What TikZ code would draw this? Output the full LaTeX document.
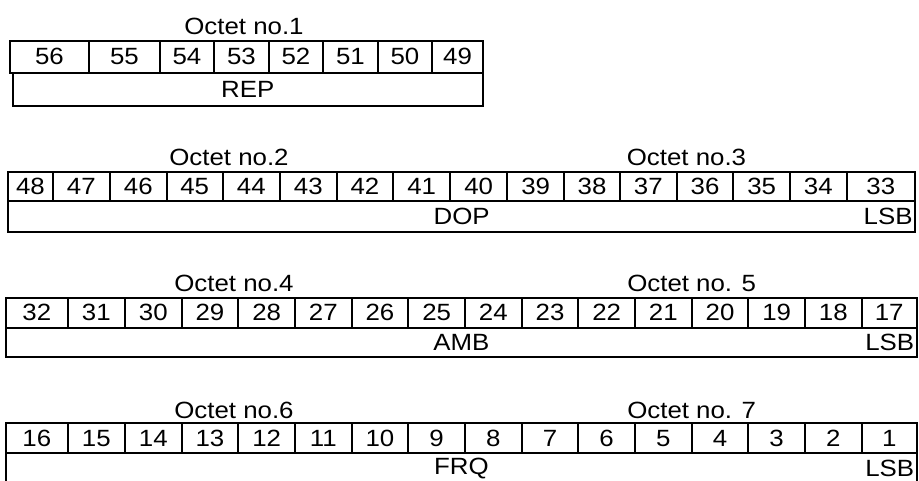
\documentclass[tikz,border=0pt]{standalone}
\usepackage{fontspec}
\setmainfont[FakeStretch=1.1]{Liberation Sans}

\begin{document}
\begin{tikzpicture}[x=1pt,y=-1pt,
  every node/.style={font=\fontsize{23.5}{28}\selectfont,inner sep=0pt,outer sep=0pt},
  cell/.style={draw,line width=2pt},
  octet/.style={anchor=base}]
\useasboundingbox (0,0) rectangle (919,481);

% octet 1
\node[octet] (oct1) at (244,34.3) {Octet no.1};
\foreach \x [remember=\x as \lastx (initially 10), count=\i] in {89,160,214,269,323,378,432,483}
{
  \pgfmathtruncatemacro{\bit}{57-\i}
  \node[cell,minimum width=\x-\lastx,minimum height=31.6] (b\bit) at ({(\x+\lastx)/2},56.8) {\bit};
}
\node[cell,minimum width=470.5,minimum height=33.4] (rep) at (247.75,89.3) {REP};

% octets 2 and 3
\node[octet] (oct2) at (229,166) {Octet no.2};
\node[octet] (oct3) at (686.5,166) {Octet no.3};
\foreach \x [remember=\x as \lastx (initially 8.3), count=\i] in {52.7,110,166.7,222.7,280,336.7,393.3,450,507.3,564,620,676.7,733.3,790,846.7,915}
{
  \pgfmathtruncatemacro{\bit}{49-\i}
  \node[cell,minimum width=\x-\lastx,minimum height=29] (b\bit) at ({(\x+\lastx)/2},186.2) {\bit};
}
\node[cell,minimum width=906.7,minimum height=31] (dop) at (461.65,216.2) {DOP};
\node[anchor=east] (lsb2) at ([xshift=-2.5pt]dop.east) {LSB};

% octets 4 and 5
\node[octet] (oct4) at (234,291.7) {Octet no.4};
\node[octet] (oct5) at (691.7,291.7) {Octet no. 5};
\foreach \x [remember=\x as \lastx (initially 6), count=\i] in {67.7,125,181.7,238.3,295,351.7,408.3,465,521.7,578.3,635,691.7,748.3,805,861.7,916.7}
{
  \pgfmathtruncatemacro{\bit}{33-\i}
  \node[cell,minimum width=\x-\lastx,minimum height=30] (b\bit) at ({(\x+\lastx)/2},312.7) {\bit};
}
\node[cell,minimum width=910.7,minimum height=29.6] (amb) at (461.35,342.5) {AMB};
\node[anchor=east] (lsb4) at ([xshift=-2.5pt]amb.east) {LSB};

% octets 6 and 7
\node[octet] (oct6) at (234,418.3) {Octet no.6};
\node[octet] (oct7) at (691.7,418.3) {Octet no. 7};
\foreach \x [remember=\x as \lastx (initially 6), count=\i] in {67.7,125,181.7,238.3,295,351.7,408.3,465,521.7,578.3,635,691.7,748.3,805,861.7,916.7}
{
  \pgfmathtruncatemacro{\bit}{17-\i}
  \node[cell,minimum width=\x-\lastx,minimum height=30] (b\bit) at ({(\x+\lastx)/2},438.3) {\bit};
}
\node[cell,minimum width=910.7,minimum height=30] (frq) at (461.35,468.3) {FRQ};
\node[anchor=east] (lsb6) at ([xshift=-2.5pt]frq.east) {LSB};
\end{tikzpicture}
\end{document}
